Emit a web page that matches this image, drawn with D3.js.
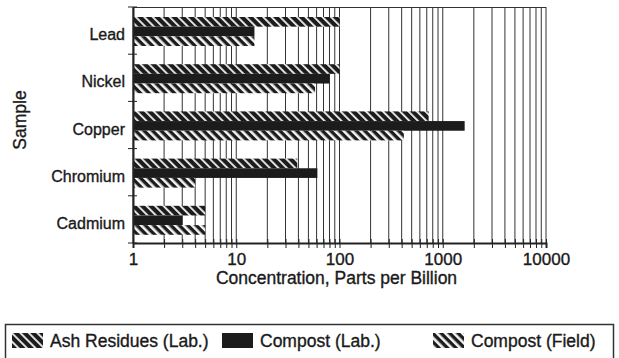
<!DOCTYPE html>
<html>
<head>
<meta charset="utf-8">
<script src="https://cdn.jsdelivr.net/npm/d3@7"></script>
<style>
  body { margin: 0; background: #fff; }
  svg text { font-family: "Liberation Sans", Arial, sans-serif; fill: #1a1a1a; stroke: #1a1a1a; stroke-width: 0.35px; }
</style>
</head>
<body>
<div id="chart-area"></div>
<script>
const samples = ['Lead', 'Nickel', 'Copper', 'Chromium', 'Cadmium'];
const series = ['Ash Residues (Lab.)', 'Compost (Lab.)', 'Compost (Field)'];
const ashResidues = [100, 100, 730, 39, 5];
const compostLab = [15, 80, 1630, 61, 3];
const compostField = [15, 58, 420, 4, 5];
const tickValues = [1, 10, 100, 1000, 10000];

const width = 619, height = 358;
const margin = { left: 133, right: 73, top: 7, bottom: 115 };
const plotW = width - margin.left - margin.right;
const plotH = height - margin.top - margin.bottom;
const font = '"Liberation Sans", Arial, sans-serif';

let svg = d3.select('#chart-area').append('svg')
    .attr('width', width)
    .attr('height', height);

let defs = svg.append('defs');
function hatch(id, bg, stripe, sw) {
    let p = defs.append('pattern')
        .attr('id', id)
        .attr('patternUnits', 'userSpaceOnUse')
        .attr('width', 6).attr('height', 6)
        .attr('patternTransform', 'rotate(-45)');
    p.append('rect').attr('width', 6).attr('height', 6).attr('fill', bg);
    p.append('rect').attr('x', 0).attr('width', sw).attr('height', 6).attr('fill', stripe);
}
hatch('ash', '#1c1c1c', '#f4f4f4', 1.8);
hatch('field', '#1c1c1c', '#f4f4f4', 2.6);
const fills = ['url(#ash)', '#1c1c1c', 'url(#field)'];

let g = svg.append('g').attr('transform', `translate(${margin.left}, ${margin.top})`);

let x = d3.scaleLog().domain([1, 10000]).range([0, plotW]);
let y = d3.scaleBand().domain(samples).range([0, plotH]);
let ySub = d3.scaleBand().domain(series).range([10, 39]);

// grid lines at every minor tick
let gridVals = [];
for (let e = 0; e < 4; e++) for (let m = 1; m <= 9; m++) gridVals.push(m * Math.pow(10, e));
gridVals.push(10000);
g.append('g').selectAll('line').data(gridVals).enter().append('line')
    .attr('x1', d => x(d)).attr('x2', d => x(d))
    .attr('y1', 0).attr('y2', plotH)
    .attr('stroke', '#333').attr('stroke-width', 1);
g.append('line').attr('x1', 0).attr('x2', plotW).attr('y1', 0.5).attr('y2', 0.5)
    .attr('stroke', '#333');

const table = [];
samples.forEach((s, i) => {
    table.push({ sample: s, series: series[0], value: ashResidues[i], k: 0 });
    table.push({ sample: s, series: series[1], value: compostLab[i], k: 1 });
    table.push({ sample: s, series: series[2], value: compostField[i], k: 2 });
});

g.append('g').selectAll('rect').data(table).enter().append('rect')
    .attr('x', 0)
    .attr('y', d => y(d.sample) + ySub(d.series))
    .attr('width', d => x(d.value))
    .attr('height', ySub.bandwidth())
    .attr('fill', d => fills[d.k]);

// axes
let bottomAxis = d3.axisBottom(x).tickValues(gridVals).tickSize(5)
    .tickFormat(d => tickValues.includes(d) ? d : '');
let ax = g.append('g').attr('transform', `translate(0, ${plotH})`).call(bottomAxis);
ax.select('.domain').attr('stroke', '#222').attr('stroke-width', 2);
ax.selectAll('.tick line').attr('y1', -4).attr('stroke', '#222');
ax.selectAll('.tick text').attr('font-size', 17).attr('dy', '0.8em')
    .attr('font-family', font).attr('fill', '#1a1a1a');

let leftAxis = d3.axisLeft(y).tickSize(0).tickPadding(8);
let ay = g.append('g').call(leftAxis);
ay.select('.domain').attr('stroke', '#222').attr('stroke-width', 2);
ay.selectAll('.tick text').attr('font-size', 16).attr('dy', '0.6em')
    .attr('font-family', font).attr('fill', '#1a1a1a');
let bounds = [0].concat(samples.map(s => y(s) + y.bandwidth()));
ay.append('g').selectAll('line').data(bounds).enter().append('line')
    .attr('x1', -5).attr('x2', 4)
    .attr('y1', d => d).attr('y2', d => d)
    .attr('stroke', '#222');

g.append('text')
    .attr('x', plotW / 2 - 3)
    .attr('y', plotH + 41)
    .attr('font-size', 17.5)
    .attr('text-anchor', 'middle')
    .text('Concentration, Parts per Billion');

g.append('text')
    .attr('x', -(plotH / 2) + 5)
    .attr('y', -107)
    .attr('font-size', 17.5)
    .attr('text-anchor', 'middle')
    .attr('transform', 'rotate(-90)')
    .text('Sample');

// legend
let legend = svg.append('g');
legend.append('path')
    .attr('d', 'M5.5,362 V324.5 H613.5 V362')
    .attr('fill', 'none').attr('stroke', '#333').attr('stroke-width', 1.5);
const legendX = [12, 222, 433];
series.forEach((s, i) => {
    legend.append('rect')
        .attr('x', legendX[i]).attr('y', 333)
        .attr('width', 31).attr('height', 15)
        .attr('fill', fills[i]);
    legend.append('text')
        .attr('x', legendX[i] + 38).attr('y', 347)
        .attr('font-size', 17.5)
        .text(s);
});
</script>
</body>
</html>
